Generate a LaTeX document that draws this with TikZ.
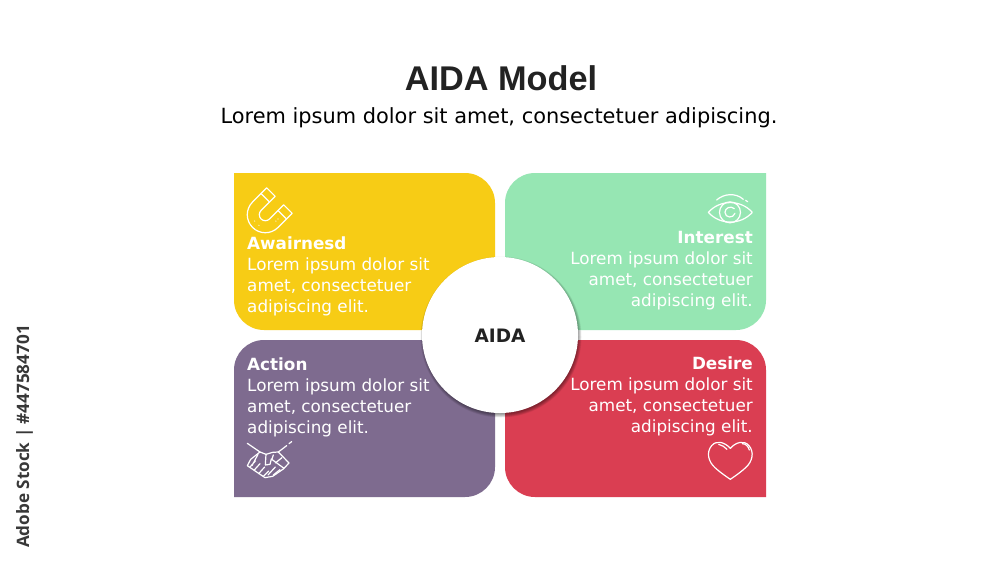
\documentclass[tikz,border=0pt]{standalone}
\usepackage{fontspec}
\setmainfont{DejaVu Sans}
\newfontfamily\titlefont{Liberation Sans}
\newfontfamily\stockfont{Open Sans}
\definecolor{cyellow}{HTML}{F7CC15}
\definecolor{cgreen}{HTML}{96E6B3}
\definecolor{cpurple}{HTML}{7E6B8F}
\definecolor{cred}{HTML}{DA3E52}
\definecolor{ink}{HTML}{222222}
\tikzset{
  cardtext/.style={text=white,font=\fontsize{16.8}{21}\selectfont,inner sep=0pt},
  icon/.style={draw=white,line width=1.2pt,line cap=round,line join=round},
}
\begin{document}
\begin{tikzpicture}[x=1pt,y=-1pt]
\useasboundingbox (0,0) rectangle (1000,563);
\fill[white] (0,0) rectangle (1000,563);
% cards
\fill[cyellow] (234,173) -- (465,173) arc[start angle=90,end angle=0,radius=30pt] -- (495,330) -- (264,330) arc[start angle=270,end angle=180,radius=30pt] -- cycle;
\fill[cgreen] (535,173) -- (766,173) -- (766,300) arc[start angle=0,end angle=-90,radius=30pt] -- (505,330) -- (505,203) arc[start angle=180,end angle=90,radius=30pt] -- cycle;
\fill[cpurple] (264,340) -- (495,340) -- (495,467) arc[start angle=0,end angle=-90,radius=30pt] -- (234,497) -- (234,370) arc[start angle=180,end angle=90,radius=30pt] -- cycle;
\fill[cred] (505,340) -- (736,340) arc[start angle=90,end angle=0,radius=30pt] -- (766,497) -- (535,497) arc[start angle=270,end angle=180,radius=30pt] -- cycle;
% title
\node[font=\titlefont\bfseries\fontsize{34.3}{38}\selectfont,text=ink,anchor=base,inner sep=0pt] (title) at (501,90.5) {AIDA Model};
\node[font=\fontsize{20.9}{24}\selectfont,text=black,anchor=base,inner sep=0pt] (subtitle) at (499,123) {Lorem ipsum dolor sit amet, consectetuer adipiscing.};
% circle with soft shadow
\foreach \r in {80.5,80,79.5,79,78.5,78,77.5,77}{\fill[black,opacity=0.06] (501,337) circle[radius=\r pt];}
\node[circle,fill=white,minimum size=156pt,inner sep=0pt] (hub) at (500,335) {};
\node[font=\bfseries\fontsize{18.5}{22}\selectfont,text=ink,inner sep=0pt] (hublabel) at (500,335.5) {AIDA};
% card text
\node[cardtext,anchor=base west,align=left] (t1) at (247,312) {\textbf{Awairnesd}\\Lorem ipsum dolor sit\\amet, consectetuer\\adipiscing elit.};
\node[cardtext,anchor=base east,align=right] (t2) at (753,306) {\textbf{Interest}\\Lorem ipsum dolor sit\\amet, consectetuer\\adipiscing elit.};
\node[cardtext,anchor=base west,align=left] (t3) at (247,433) {\textbf{Action}\\Lorem ipsum dolor sit\\amet, consectetuer\\adipiscing elit.};
\node[cardtext,anchor=base east,align=right] (t4) at (753,432.5) {\textbf{Desire}\\Lorem ipsum dolor sit\\amet, consectetuer\\adipiscing elit.};
% magnet icon
\begin{scope}[shift={(265.3,214.7)},x={(.707pt,.707pt)},y={(.707pt,-.707pt)}]
\draw[icon] (20,-18) -- (0,-18) .. controls (-10,-18) and (-18,-10) .. (-18,0) .. controls (-18,10) and (-10,18) .. (0,18) -- (20,18) -- (20,6) -- (0,6) .. controls (-3.3,6) and (-6,3.3) .. (-6,0) .. controls (-6,-3.3) and (-3.3,-6) .. (0,-6) -- (20,-6) -- cycle;
\draw[icon] (12,-18) -- (12,-6) (12,6) -- (12,18);
\fill[white] (-12,-3) circle[radius=.6pt] (-12,3) circle[radius=.6pt] (6,12) circle[radius=.6pt] (3,12) circle[radius=.6pt];
\end{scope}
% eye icon
\begin{scope}[shift={(500,170)},x=.3333pt,y=-.3333pt]
\draw[icon] (625,127) .. controls (660,88) and (722,88) .. (757,127) .. controls (722,166) and (660,166) .. (625,127) -- cycle;
\draw[icon] (690,127) circle[radius=10.5pt];
\draw[icon] (703,116) .. controls (692,106) and (675,114) .. (675,127) .. controls (675,144) and (700,146) .. (705,130);
\draw[icon] (650,90) .. controls (672,70) and (708,68) .. (730,88);
\draw[icon] (737,91) -- (743,95);
\end{scope}
% heart icon
\begin{scope}[shift={(500,335)},x=.3333pt,y=-.3333pt]
\draw[icon] (691,340) .. controls (675,322) and (650,314) .. (635,332) .. controls (618,352) and (625,380) .. (645,398) .. controls (660,412) and (678,424) .. (691,433) .. controls (704,424) and (722,412) .. (737,398) .. controls (757,380) and (764,352) .. (747,332) .. controls (732,314) and (707,322) .. (691,340) -- cycle;
\draw[icon] (656,328) .. controls (666,330) and (674,336) .. (681,343);
\draw[icon] (727,326) .. controls (737,326) and (745,334) .. (748,345);
\end{scope}
% handshake icon
\begin{scope}[shift={(230,335)},x=.3333pt,y=-.3333pt]
\draw[icon] (52,325) -- (90,351);
\draw[icon] (145,351) -- (170,332) (177,326) -- (185,320);
\draw[icon] (62,373) -- (90,351) -- (108,358) -- (128,352) -- (145,351) -- (177,384);
\draw[icon] (62,373) -- (52,392) -- (105,428) -- (128,424) -- (160,402) -- (177,384);
\draw[icon] (108,358) -- (106,390) -- (120,388) -- (124,372) -- (162,400);
\draw[icon] (84,358) -- (66,392) (60,396) -- (76,378) (72,406) -- (90,386) (86,416) -- (104,396) (100,424) -- (116,408);
\draw[icon] (114,420) -- (136,396) (130,420) -- (150,404);
\draw[icon] (130,360) -- (126,372) (136,384) -- (156,368);
\end{scope}
% side label
\node[font=\stockfont\bfseries\fontsize{17.1}{20}\selectfont,text=ink!90!white,rotate=90,anchor=base west,inner sep=0pt] (stock) at (29,548) {Adobe Stock | \#447584701};
\end{tikzpicture}
\end{document}
